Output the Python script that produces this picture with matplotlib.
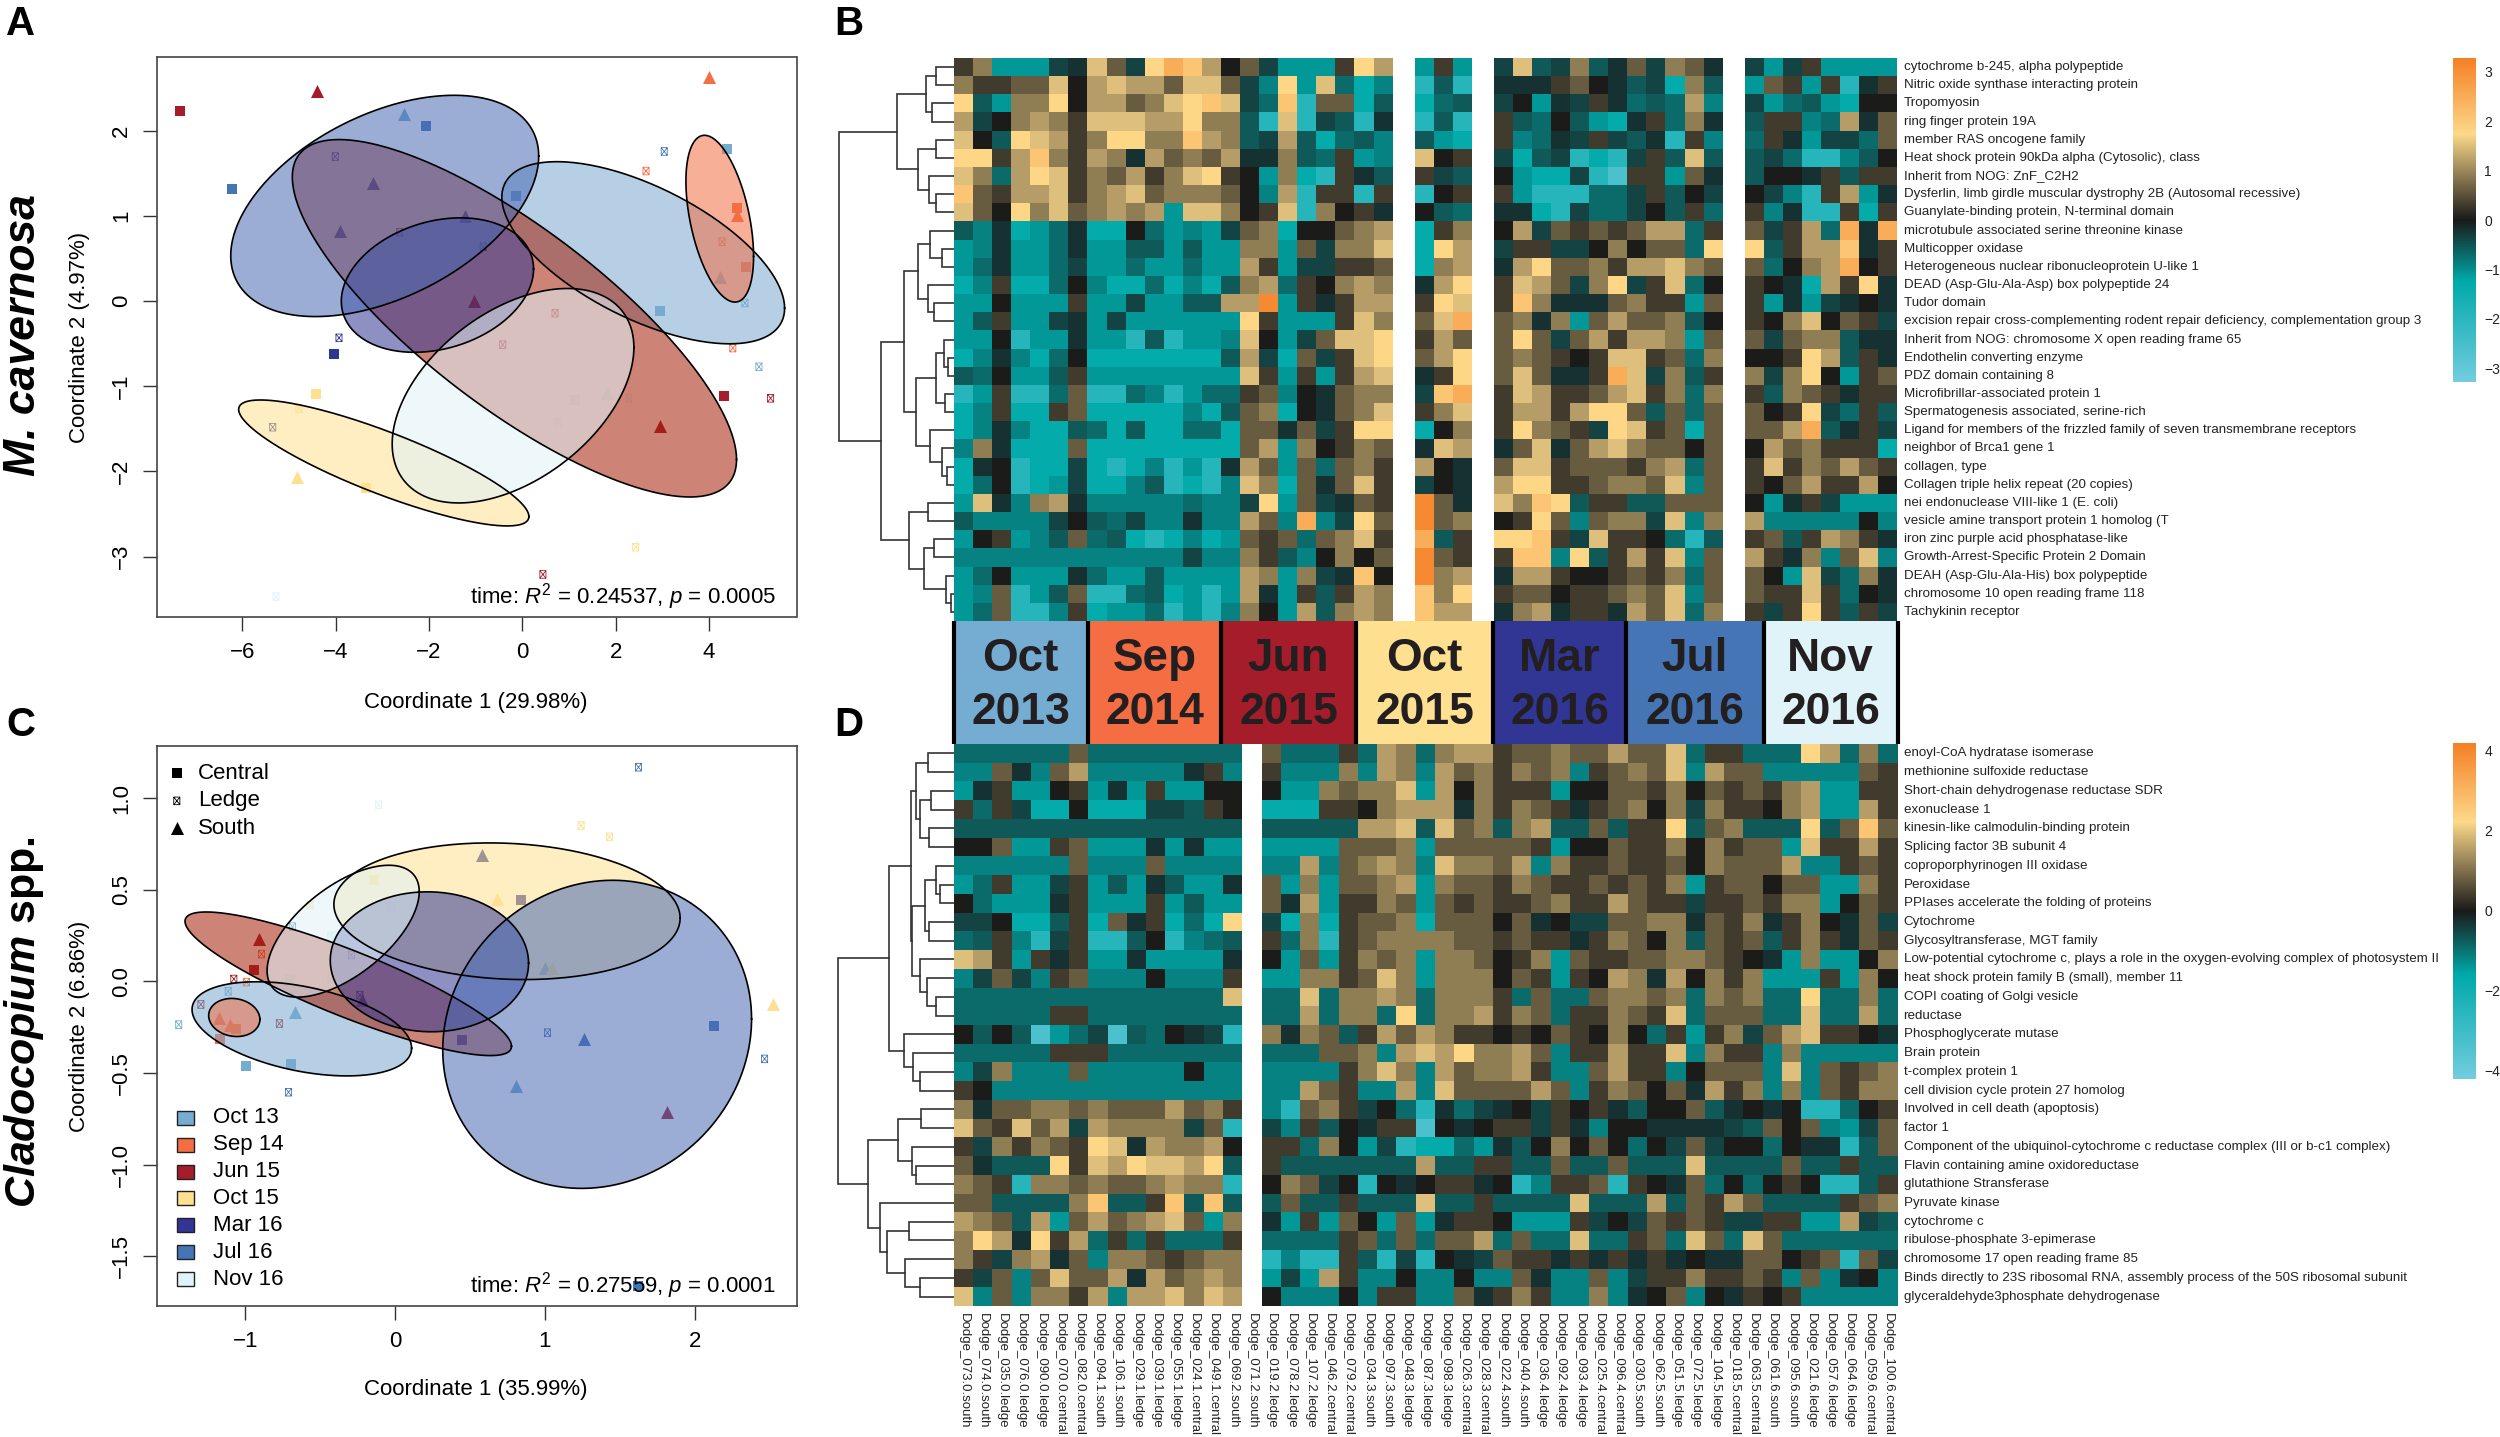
import numpy as np
import matplotlib
matplotlib.use('Agg')
import matplotlib.pyplot as plt
from matplotlib.colors import LinearSegmentedColormap
from matplotlib.patches import Rectangle
from matplotlib.path import Path

plt.rcParams['font.family'] = ['Liberation Sans', 'DejaVu Sans']
plt.rcParams['mathtext.fontset'] = 'custom'
plt.rcParams['mathtext.rm'] = 'Liberation Sans'
plt.rcParams['mathtext.it'] = 'Liberation Sans:italic'
plt.rcParams['mathtext.bf'] = 'Liberation Sans:bold'
plt.rcParams['mathtext.bfit'] = 'Liberation Sans:italic:bold'

W, H = 2500, 1437

times = ['Oct 13', 'Sep 14', 'Jun 15', 'Oct 15', 'Mar 16', 'Jul 16', 'Nov 16']
band_months = ['Oct', 'Sep', 'Jun', 'Oct', 'Mar', 'Jul', 'Nov']
band_years = ['2013', '2014', '2015', '2015', '2016', '2016', '2016']
time_colors = ['#74ADD1', '#F46D43', '#A51C2B', '#FEE090', '#313695', '#4575B4', '#E0F3F8']
ell_colors = ['#7AA8CE', '#F46D43', '#A51F08', '#FEE090', '#313695', '#496AB4', '#E0F3F8']

# ordination points: x, y, site (c central, l ledge, s south), one block per time point
a_points = [
    [(4.39, 1.79, 'c'), (2.94, -.11, 'c'), (5.07, -.77, 'l'), (4.77, -.02, 'l'), (-2.53, 2.20, 's'), (4.24, .29, 's')],
    [(4.01, 2.64, 's'), (2.65, 1.53, 'l'), (4.60, 1.09, 'c'), (4.60, 1.01, 's'), (4.28, .70, 'l'), (4.80, .40, 'c'), (4.51, -.55, 'l')],
    [(-7.33, 2.23, 'c'), (-4.41, 2.47, 's'), (.44, -3.21, 'l'), (5.32, -1.14, 'l'), (4.32, -1.11, 'c'), (2.96, -1.46, 's'), (-2.63, .81, 'l'),
     (-.42, -.51, 'l'), (.70, -.14, 'l'), (-1.04, 0.0, 's')],
    [(-4.43, -1.09, 'c'), (-4.79, -1.26, 'l'), (-4.83, -2.06, 's'), (-3.35, -2.20, 'c'), (2.43, -2.89, 'l')],
    [(-3.93, -.43, 'l'), (-4.03, -.62, 'c'), (-3.90, .83, 's'), (-3.20, 1.39, 's'), (-1.23, 1.00, 's'), (-4.01, 1.70, 'l'),
     (-5.35, -1.48, 'l'), (-.84, .64, 'l')],
    [(-2.06, 2.06, 'c'), (-6.23, 1.32, 'c'), (3.04, 1.76, 'l'), (-.14, 1.24, 'c')],
    [(-5.28, -3.47, 'l'), (.76, -1.42, 'l'), (1.81, -1.08, 's'), (2.28, -1.14, 'l'), (1.12, -1.16, 'c')],
]
c_points = [
    [(-1.445, -.236, 'l'), (-1.115, -.054, 'l'), (-.666, -.169, 's'), (-.999, -.462, 'c'), (-.692, -.452, 'c'), (.808, -.569, 's'), (.999, .071, 's')],
    [(-.993, -.004, 'l'), (-1.176, -.201, 's'), (-1.10, -.238, 's'), (-1.06, -.259, 'c'), (-.892, .149, 'l'), (-1.17, -.314, 'c')],
    [(-.909, .234, 's'), (-.941, .063, 'c'), (-1.077, .013, 'l'), (1.816, -.715, 's'), (-1.297, -.126, 'l'), (-.773, -.23, 'l')],
    [(1.242, .851, 'l'), (1.431, .789, 'l'), (2.52, -.121, 's'), (-.142, .552, 'c'), (.683, .452, 's'), (1.048, .071, 's'), (-.568, .416, 'l')],
    [(.579, .692, 's'), (.843, .444, 'c'), (.446, -.32, 'c'), (-.223, -.10, 's'), (-.235, -.075, 'l'), (-.292, .144, 'l')],
    [(1.625, 1.169, 'l'), (-.686, .299, 'l'), (-.712, -.605, 'l'), (1.017, -.28, 'l'), (2.467, -.423, 'l'), (2.126, -.243, 'c'), (1.625, -1.661, 'c'), (1.263, -.312, 's')],
    [(-.11, .964, 'l'), (-.423, .249, 'c'), (-.43, .015, 'l'), (-.70, .013, 'c'), (-.026, .404, 'c')],
]
# ellipses: centre x, centre y, half width, half height, correlation
a_ellipses = [(2.59, .57, 3.03, 1.07, -.61), (4.23, .97, .725, .98, -.45), (-.17, -.20, 4.76, 2.10, -.79),
              (-2.97, -1.90, 3.11, .74, -.85), (-1.82, .19, 2.06, .79, .24), (-2.95, 1.12, 3.30, 1.30, .45),
              (-.20, -1.11, 2.59, 1.26, .45)]
c_ellipses = [(-.623, -.259, .733, .257, -.41), (-1.074, -.197, .171, .104, -.1), (-.313, -.013, 1.09, .392, -.87),
              (.747, .383, 1.156, .373, -.1), (.229, .107, .662, .382, -.02), (1.349, -.289, 1.031, .841, .1),
              (-.347, .274, .508, .36, .6)]

# heatmap cells, one character per sample: digits are positive levels, letters negative, . is missing
pos_levels = [0, .3, .6, .9, 1.2, 1.5, 1.8, 2.1, 2.5, 3.1]
neg_levels = dict(a=-.2, b=-.35, c=-.55, d=-.7, e=-.9, f=-1.1, g=-1.3, h=-1.9, i=-2.6)

b_rows = [
    "13fffba52b687402bfff164.f1f.b5cb3ca2b32a.bfb1ffff",
    "311225045442552be6f5dge.hch.aaa120acbg3c.f21f1ha1",
    "6cf336044235675bd7h22gc.gdc.b0fab1adcd4e.bfdcfg00",
    "4b0343155544633ch5hbcha.hch.1cd0cfga1d3a.c11ed4a2",
    "50c654136633743cb4cgdce.cfg.1edab1bcah1e.d1afbbd2",
    "661473143a42324aa3cd1fe.501.bgcbhghb1c5c.cbdhhec0",
    "53d4651324135610f3gh1ac.1bc.0fggbhi11f2a.c00a1c11",
    "7214451345233320e4h11h1.h01.1fhhhddb1c0b.0beh14fa",
    "52063523434f553015h301a.0cd.aaghbddb0c1d.1eahh1g1",
    "ceagfdagg0dfefb23g00234.g13.04b2121244d1.2b14d8a8",
    "feaffdaffccfcff33f2b335.g64.b11bb03022d6.6c1447a1",
    "fdaffdbffdffdff41fbb112.g34.a46223144532.2d034801",
    "ge1ggd0eggdgegc34d10343.a46.1542b36b15d0.10ag416a",
    "ff0fff1ffbffcc449f1a144.165.173aaa2311f2.1fafba0a",
    "fc1ffbafbffffff61fff153.258.23a3f24223c0.1035021b",
    "ff0hffaffhchffe50fb2556.142.262b241443f2.2b233caa",
    "geaegd0gggggggc4bg2b156.246.2321015512d3.00164c1a",
    "cd0ffc1ffffffff51f1f145.a16.252aa185b3c1.3b360f12",
    "hf1hhd2hhdehfdd12e0a233.b78.1541124513d3.1c321a11",
    "ge1gg12gggggegc23g0a235.135.14414662c2d2.2016bd1c",
    "geaeggcdgcggddg22a2b166.g03.16321b6512g2.2248ca1b",
    "e3aggg2gggggggg24f30132.a54.a25a24532202.0423111g",
    "ga0hggbghgehfha42f2d231.40a.2551222134d2.15132421",
    "gd0hgfbggechghe53g2a251.b0a.4661123325e2.10241140",
    "f5ae34aeeeeedeeb6f2ba21.92a.5376c11cc222.0fa1bfff",
    "ceeeeb0cdbeeaee42e8eb62.923.0162e233b5e3.4eeeee0e",
    "f01fec2dcghgegf212d2351.8c1.6671b5110dhc.12c1431a",
    "eeeeeeeeeeeebee31ce0302.921.177e6c1415e2.41a3e25e",
    "fd0fffadffcffff43f3ba70.934.a441001213d2.20f5bd3a",
    "fe2hfc2hhdcgfhf4af1c143.736.1220112325e2.21151d0a",
    "fd2hhe1gffdhfhe30f4c343.744.a34a11a425d3.1b161c1b",
]
d_rows = [
    "dddddd2dddddddd.2ddd1d43d3441223224225d11ddd64d3d",
    "ee2ae24eeeeea1e.1eee3e43e4231323e12325e422eeeee21",
    "fa1ff01faf1ff00.0ff32335f403111f0022130212134ff11",
    "1d1bgg0gggbbc10.ggg1103444a31321a12303b311034ff41",
    "ccccccccccccccc.ccccc445c523c34cc2c116c23ccc6c272",
    "002ff12fffafaff.ffff2223f222221f00211303122f51141",
    "eeeeee2eee2eeee.ee4e2343e53324e3112112032224ee121",
    "fd1ffb1fcfacffa.2f3f2234f3221321121213f122022ff31",
    "0dfffa1fff1fcff.2a4f1132f2121123114211b112133f021",
    "bb0ggc1g2a1gdg6.bg3g1223g22202a0bb2233a213a130a2b",
    "dc1ehb1hhc0hedc.1d3h123333221211a13203c212c131a21",
    "541f1a1ffaffffa.0f2f1323f332013f2112233210af3ff03",
    "eb2be12eee0eee1.ff331253f333021f1043a40313fff1f30",
    "dddddddddddddd5.dd5d3343d3331d2dd23323d323dd6dd3d",
    "ddddd11dddddddd.dd4d33d6d334132d113215d222dd5dd4d",
    "0c0cifdbicd0abh.3a32c142431101021030d1f13b245110a",
    "ddddd111ddddddd.ddd223e45463342e114115e311e3eeeee",
    "eb3eee2eeeee0ee.eeee1353e423341ee2411e0222e5e2123",
    "10eeeeeeeeeeeee.ee421ee4e5222242e13202a413e3e2133",
    "3a2233232224231.eh231b0dhadba0b101ac002ca0a0hhd01",
    "521524b43333b2h.be1c0a11i0a011b1ae00aaaabc202efb2",
    "1b3132165a43340.11d30fbhggdfac03020d0b2b00d0aahc2",
    "2accc615465546c.1ccccccc4cc11cc2cc2ccc5cccc2cc1cc",
    "321h3323223433h.032b0h0a011a0he112h10a2d0d010hhc1",
    "22cccc37cc17c7c.c2cc1ccc5cc1cccc5ccc4c2142cccc123",
    "432c4f2423452f3.af1f20f2fa110fff1b0b2121bb11ff4bc",
    "364a614d1d1ddd1.dddd12d2d224d2dd5dd12d52d52dddddd",
    "31b34a2e3321233.hehh1chbh0ab211a1a1a1a0aa22012h2b",
    "1b2e25224a42343.fbf41ee0ee0ee2aee2eb1131121e2ea0e",
    "5e2e3314e445354.0eee0e11ee2a131ee3ea02e0a101eeeee",
]

b_labels = [
    'cytochrome b-245, alpha polypeptide', 'Nitric oxide synthase interacting protein', 'Tropomyosin',
    'ring finger protein 19A', 'member RAS oncogene family', 'Heat shock protein 90kDa alpha (Cytosolic), class',
    'Inherit from NOG: ZnF_C2H2', 'Dysferlin, limb girdle muscular dystrophy 2B (Autosomal recessive)',
    'Guanylate-binding protein, N-terminal domain', 'microtubule associated serine threonine kinase',
    'Multicopper oxidase', 'Heterogeneous nuclear ribonucleoprotein U-like 1',
    'DEAD (Asp-Glu-Ala-Asp) box polypeptide 24', 'Tudor domain',
    'excision repair cross-complementing rodent repair deficiency, complementation group 3',
    'Inherit from NOG: chromosome X open reading frame 65', 'Endothelin converting enzyme', 'PDZ domain containing 8',
    'Microfibrillar-associated protein 1', 'Spermatogenesis associated, serine-rich',
    'Ligand for members of the frizzled family of seven transmembrane receptors', 'neighbor of Brca1 gene 1',
    'collagen, type', 'Collagen triple helix repeat (20 copies)', 'nei endonuclease VIII-like 1 (E. coli)',
    'vesicle amine transport protein 1 homolog (T', 'iron zinc purple acid phosphatase-like',
    'Growth-Arrest-Specific Protein 2 Domain', 'DEAH (Asp-Glu-Ala-His) box polypeptide',
    'chromosome 10 open reading frame 118', 'Tachykinin receptor']
d_labels = [
    'enoyl-CoA hydratase isomerase', 'methionine sulfoxide reductase', 'Short-chain dehydrogenase reductase SDR',
    'exonuclease 1', 'kinesin-like calmodulin-binding protein', 'Splicing factor 3B subunit 4',
    'coproporphyrinogen III oxidase', 'Peroxidase', 'PPIases accelerate the folding of proteins', 'Cytochrome',
    'Glycosyltransferase, MGT family',
    'Low-potential cytochrome c, plays a role in the oxygen-evolving complex of photosystem II',
    'heat shock protein family B (small), member 11', 'COPI coating of Golgi vesicle', 'reductase',
    'Phosphoglycerate mutase', 'Brain protein', 't-complex protein 1', 'cell division cycle protein 27 homolog',
    'Involved in cell death (apoptosis)', 'factor 1',
    'Component of the ubiquinol-cytochrome c reductase complex (III or b-c1 complex)',
    'Flavin containing amine oxidoreductase', 'glutathione Stransferase', 'Pyruvate kinase', 'cytochrome c',
    'ribulose-phosphate 3-epimerase', 'chromosome 17 open reading frame 85',
    'Binds directly to 23S ribosomal RNA, assembly process of the 50S ribosomal subunit',
    'glyceraldehyde3phosphate dehydrogenase']
sample_labels = [
    'Dodge_073.0.south', 'Dodge_074.0.south', 'Dodge_035.0.ledge', 'Dodge_076.0.ledge', 'Dodge_090.0.ledge',
    'Dodge_070.0.central', 'Dodge_082.0.central', 'Dodge_094.1.south', 'Dodge_106.1.south', 'Dodge_029.1.ledge',
    'Dodge_039.1.ledge', 'Dodge_055.1.ledge', 'Dodge_024.1.central', 'Dodge_049.1.central', 'Dodge_069.2.south',
    'Dodge_071.2.south', 'Dodge_019.2.ledge', 'Dodge_078.2.ledge', 'Dodge_107.2.ledge', 'Dodge_046.2.central',
    'Dodge_079.2.central', 'Dodge_034.3.south', 'Dodge_097.3.south', 'Dodge_048.3.ledge', 'Dodge_087.3.ledge',
    'Dodge_098.3.ledge', 'Dodge_026.3.central', 'Dodge_028.3.central', 'Dodge_022.4.south', 'Dodge_040.4.south',
    'Dodge_036.4.ledge', 'Dodge_092.4.ledge', 'Dodge_093.4.ledge', 'Dodge_025.4.central', 'Dodge_096.4.central',
    'Dodge_030.5.south', 'Dodge_062.5.south', 'Dodge_051.5.ledge', 'Dodge_072.5.ledge', 'Dodge_104.5.ledge',
    'Dodge_018.5.central', 'Dodge_063.5.central', 'Dodge_061.6.south', 'Dodge_095.6.south', 'Dodge_021.6.ledge',
    'Dodge_057.6.ledge', 'Dodge_064.6.ledge', 'Dodge_059.6.central', 'Dodge_100.6.central']

# row dendrograms: (height in px, upper child, lower child), L is a leaf
L = None
b_tree = (115,
          (57, (28, (18, L, L), (22, L, L)), (36, (18, L, L), (25, L, (18, L, L)))),
          (73,
           (50,
            (36, (24, L, (12, L, L)), (26, L, (20, L, L))),
            (38, (18, (10, L, (6, L, L)), (9, L, L)), (24, L, (12, L, (7, L, L))))),
           (45, (26, L, L), (30, (20, L, L), (8, L, (3, L, L))))))
d_tree = (116,
          (65,
           (43,
            (38, (26, L, L), (34, (23, L, L), (25, L, L))),
            (42, (29, (18, L, (14, L, L)), (25, L, L)), (34, L, (27, L, (18, L, L))))),
           (50, L, (41, L, (34, L, L)))),
          (86,
           (56, (33, L, L), (42, L, (38, L, L))),
           (74, L, (67, (45, L, L), (49, L, (34, L, L))))))

ledge_marker = Path([(-.4, -.5), (.4, -.5), (.4, .5), (-.4, .5), (-.4, -.5), (.4, .5), (-.4, .5), (.4, -.5)],
                    [1, 2, 2, 2, 2, 2, 1, 2])
site_markers = dict(c='s', l=ledge_marker, s='^')
site_sizes = dict(c=47, l=30, s=88)

fig = plt.figure(figsize=(W / 100, H / 100), dpi=100)


def px_axes(x0, y0, x1, y1):
    return fig.add_axes([x0 / W, 1 - y1 / H, (x1 - x0) / W, (y1 - y0) / H])


def px_text(x, y, s, **kw):
    fig.text(x / W, 1 - y / H, s, **kw)


def heat_cmap(top):
    k = top / 3.28
    stops = [(-3.28, '#72CDE0'), (-1.25, '#00AAAA'), (0, '#1A1A1A'), (1.75, '#FDD98A'), (3.28, '#F58026')]
    cm = LinearSegmentedColormap.from_list('heat', [((v + 3.28) / 6.56, c) for v, c in stops], N=512)
    cm.set_bad('white')
    return cm, -3.28 * k, 3.28 * k


def decode(rows, k):
    out = []
    for r in rows:
        if len(r) != 49:
            print('bad row length', len(r), r)
        vals = []
        for ch in r:
            if ch == '.':
                vals.append(np.nan)
            elif ch.isdigit():
                vals.append(pos_levels[int(ch)] * k)
            else:
                vals.append(neg_levels[ch] * k)
        out.append(vals)
    return np.ma.masked_invalid(np.array(out))


def draw_tree(ax, node, state):
    if node is None:
        state[0] += 1
        return 0, state[0] - .5
    h, a, b = node
    ha, ya = draw_tree(ax, a, state)
    hb, yb = draw_tree(ax, b, state)
    ax.plot([ha, h, h, hb], [ya, ya, yb, yb], color='#333333', lw=1.2, solid_joinstyle='miter')
    return h, (ya + yb) / 2


def ordination(box, points, ellipses, xlim, ylim, xticks, yticks, note):
    ax = px_axes(*box)
    for i, block in enumerate(points):
        for x, y, site in block:
            if site == 'l':
                ax.scatter(x, y, marker=site_markers[site], s=site_sizes[site], facecolor='none',
                           edgecolor=time_colors[i], linewidth=.6, zorder=2)
            else:
                ax.scatter(x, y, marker=site_markers[site], s=site_sizes[site], color=time_colors[i],
                           linewidth=0, zorder=2)
    t = np.linspace(0, 2 * np.pi, 300)
    for i, (cx, cy, wx, wy, r) in enumerate(ellipses):
        ex = cx + wx * np.cos(t)
        ey = cy + wy * (r * np.cos(t) + np.sqrt(1 - r * r) * np.sin(t))
        ax.fill(ex, ey, facecolor=ell_colors[i], alpha=.55, edgecolor='none', zorder=3)
        ax.plot(ex, ey, color='black', lw=1.2, zorder=4)
    ax.set_xlim(*xlim)
    ax.set_ylim(*ylim)
    ax.set_xticks(xticks)
    ax.set_yticks(yticks)
    ax.tick_params(length=10, width=1, color='#333333', labelsize=16, pad=8)
    for lab in ax.get_yticklabels():
        lab.set_rotation(90)
        lab.set_va('center')
    for s in ax.spines.values():
        s.set_linewidth(1.2)
        s.set_color('#444444')
    ax.text(.968, .036, note, transform=ax.transAxes, ha='right', va='center', fontsize=16, zorder=6)
    return ax


def heatmap(box, rows, labels, top, edges, tree):
    x0, y0, x1, y1 = box
    cm, vmin, vmax = heat_cmap(top)
    ax = px_axes(x0, y0, x1, y1)
    vals = decode(rows, top / 3.28)
    ax.pcolormesh(edges, np.arange(len(rows) + 1), vals, cmap=cm, vmin=vmin, vmax=vmax, antialiased=False)
    ax.set_xlim(x0, x1)
    ax.set_ylim(len(rows), 0)
    ax.axis('off')
    for i, lab in enumerate(labels):
        ax.text(x1 + 6, i + .5, lab, ha='left', va='center', fontsize=9.6, color='#222222', clip_on=False)
    tr = px_axes(x0 - tree[0] - 1, y0, x0, y1)
    draw_tree(tr, tree, [0])
    tr.set_xlim(tree[0] + 1, 0)
    tr.set_ylim(len(rows), 0)
    tr.axis('off')
    return ax


def colorbar(box, top, ticks):
    cm, vmin, vmax = heat_cmap(top)
    ax = px_axes(*box)
    ax.imshow(np.linspace(vmax, vmin, 400)[:, None], aspect='auto', cmap=cm, vmin=vmin, vmax=vmax,
              extent=[0, 1, vmin, vmax])
    ax.set_xticks([])
    ax.yaxis.tick_right()
    ax.set_yticks(ticks)
    ax.tick_params(length=0, labelsize=10, pad=6, labelcolor='#222222')
    for s in ax.spines.values():
        s.set_visible(False)


# panels A and C
ordination((157, 57, 796.5, 617), a_points, a_ellipses, (-7.83, 5.875), (-3.71, 2.87),
           [-6, -4, -2, 0, 2, 4], [-3, -2, -1, 0, 1, 2],
           r'time: $\mathit{R}^{2}$ = 0.24537, $\mathit{p}$ = 0.0005')
ax_c = ordination((157, 746, 796.5, 1306), c_points, c_ellipses, (-1.59, 2.68), (-1.772, 1.285),
                  [-1, 0, 1, 2], [-1.5, -1.0, -.5, 0, .5, 1.0],
                  r'time: $\mathit{R}^{2}$ = 0.27559, $\mathit{p}$ = 0.0001')

site_names = ['Central', 'Ledge', 'South']
for i, site in enumerate(['c', 'l', 's']):
    y = .951 - .049 * i
    if site == 'l':
        ax_c.scatter(.031, y, marker=ledge_marker, s=site_sizes['l'], facecolor='none', edgecolor='black', linewidth=.6,
                     transform=ax_c.transAxes, zorder=6)
    else:
        ax_c.scatter(.031, y, marker=site_markers[site], s=site_sizes[site], color='black', linewidth=0,
                     transform=ax_c.transAxes, zorder=6)
    ax_c.text(.0637, y, site_names[i], transform=ax_c.transAxes, va='center', fontsize=16, zorder=6)
for i, name in enumerate(times):
    y = .336 - .048 * i
    ax_c.add_patch(Rectangle((.0447 - .0135, y - .0125), .027, .025, facecolor=time_colors[i], edgecolor='#222222',
                             linewidth=1, transform=ax_c.transAxes, zorder=6))
    ax_c.text(.088, y, name, transform=ax_c.transAxes, va='center', fontsize=16, zorder=6)

px_text(476, 703, 'Coordinate 1 (29.98%)', ha='center', va='center', fontsize=16)
px_text(476, 1390, 'Coordinate 1 (35.99%)', ha='center', va='center', fontsize=16)
px_text(80, 337, 'Coordinate 2 (4.97%)', ha='center', va='center', rotation=90, fontsize=16)
px_text(80, 1026, 'Coordinate 2 (6.86%)', ha='center', va='center', rotation=90, fontsize=16)

# panels B and D
cell = 19.07
b_widths = [cell] * 23 + [22] + [cell] * 3 + [22] + [cell] * 12 + [22] + [cell] * 8
b_edges = 954 + np.concatenate([[0], np.cumsum(b_widths)])
d_edges = np.concatenate([np.linspace(954, 1242, 16), np.linspace(1261.5, 1897.5, 34)])
heatmap((954, 58, 1897.5, 621), b_rows, b_labels, 3.28, b_edges, b_tree)
ax_d = heatmap((954, 744, 1897.5, 1306), d_rows, d_labels, 4.2, d_edges, d_tree)
for i, lab in enumerate(sample_labels):
    ax_d.text((d_edges[i] + d_edges[i + 1]) / 2, 30.35, lab, ha='center', va='top', rotation=-90, fontsize=9.5,
              color='#222222', clip_on=False)

colorbar((2453, 58, 2476, 382), 3.28, [-3, -2, -1, 0, 1, 2, 3])
colorbar((2453, 743, 2476, 1079), 4.2, [-4, -2, 0, 2, 4])

# sampling date band between the heatmaps
band_edges = [953.6, 1088, 1221, 1356, 1493, 1626, 1764, 1897.5]
band = px_axes(950, 621, 1901, 744)
band.set_xlim(950, 1901)
band.set_ylim(744, 621)
band.axis('off')
for i in range(7):
    band.add_patch(Rectangle((band_edges[i], 621), band_edges[i + 1] - band_edges[i], 123,
                             facecolor=time_colors[i], edgecolor='none'))
    xc = (band_edges[i] + band_edges[i + 1]) / 2
    band.text(xc, 659, band_months[i], ha='center', va='center', fontsize=33, fontweight='bold', color='#231F20')
    band.text(xc, 712, band_years[i], ha='center', va='center', fontsize=32, fontweight='bold', color='#231F20')
for x in band_edges:
    band.plot([x, x], [621, 744], color='black', lw=3, solid_capstyle='butt')

# panel letters and species names
for x, y, s in [(6, 24, 'A'), (834, 24, 'B'), (6, 725, 'C'), (834, 725, 'D')]:
    px_text(x, y, s, ha='left', va='center', fontsize=29, fontweight='bold')
px_text(24, 335, 'M. cavernosa', ha='center', va='center', rotation=90, fontsize=32, fontweight='bold', style='italic')
px_text(24, 1022, r'$\mathbfit{Cladocopium}$ spp.', ha='center', va='center', rotation=90, fontsize=31, fontweight='bold')

fig.savefig('out.png', dpi=100)
